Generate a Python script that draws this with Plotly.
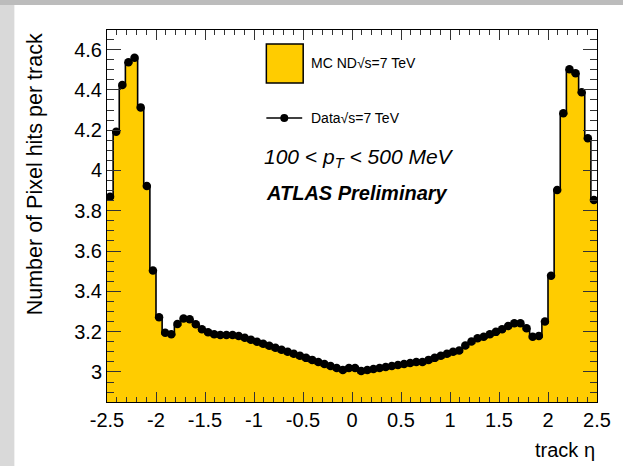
import numpy as np
import plotly.graph_objects as go

# ---- data ----
eta_lo, eta_hi, n_bins = -2.5, 2.5, 80

data_vals = [
    3.870, 4.192, 4.424, 4.537, 4.559, 4.313, 3.923, 3.503, 3.272, 3.195,
    3.187, 3.238, 3.265, 3.262, 3.237, 3.212, 3.197, 3.187, 3.184, 3.184,
    3.184, 3.179, 3.170, 3.160, 3.150, 3.140, 3.130, 3.120, 3.110, 3.100,
    3.090, 3.080, 3.070, 3.060, 3.050, 3.040, 3.030, 3.020, 3.010, 3.020,
    3.020, 3.005, 3.010, 3.015, 3.020, 3.025, 3.030, 3.035, 3.040, 3.045,
    3.050, 3.050, 3.060, 3.070, 3.080, 3.090, 3.100, 3.106, 3.131, 3.151,
    3.167, 3.175, 3.187, 3.199, 3.212, 3.228, 3.242, 3.242, 3.217, 3.175,
    3.179, 3.250, 3.478, 3.903, 4.284, 4.502, 4.482, 4.388, 4.160, 3.853,
]

mc_vals = [
    3.865, 4.190, 4.420, 4.535, 4.555, 4.310, 3.920, 3.500, 3.268, 3.190,
    3.182, 3.232, 3.258, 3.255, 3.230, 3.205, 3.190, 3.180, 3.176, 3.176,
    3.175, 3.170, 3.161, 3.151, 3.141, 3.131, 3.121, 3.111, 3.101, 3.091,
    3.081, 3.071, 3.061, 3.051, 3.041, 3.031, 3.021, 3.011, 3.002, 3.010,
    3.010, 2.997, 3.001, 3.006, 3.011, 3.016, 3.021, 3.026, 3.031, 3.036,
    3.041, 3.041, 3.051, 3.061, 3.071, 3.081, 3.091, 3.098, 3.123, 3.143,
    3.160, 3.168, 3.180, 3.192, 3.205, 3.221, 3.235, 3.235, 3.210, 3.170,
    3.174, 3.245, 3.474, 3.900, 4.280, 4.498, 4.478, 4.384, 4.156, 3.850,
]

x_tick_vals = [-2.5, -2, -1.5, -1, -0.5, 0, 0.5, 1, 1.5, 2, 2.5]
x_tick_text = ["-2.5", "-2", "-1.5", "-1", "-0.5", "0", "0.5", "1", "1.5", "2", "2.5"]
y_tick_vals = [3.0, 3.2, 3.4, 3.6, 3.8, 4.0, 4.2, 4.4, 4.6]
y_tick_text = ["3", "3.2", "3.4", "3.6", "3.8", "4", "4.2", "4.4", "4.6"]

# ---- derived ----
edges = np.linspace(eta_lo, eta_hi, n_bins + 1)
centers = 0.5 * (edges[:-1] + edges[1:])
half_w = 0.5 * (edges[1] - edges[0])

step_x = np.column_stack([edges[:-1], edges[1:]]).ravel()
step_y = np.repeat(np.array(mc_vals), 2)

FONT = "Liberation Sans, Arial, Helvetica, sans-serif"
W, H = 623, 466
L, R, T, B = 107, 24, 30, 64
pw, ph = W - L - R, H - T - B


def px(x):
    return (x - L) / pw


def py(y):
    return (H - B - y) / ph


fig = go.Figure()

fig.add_trace(go.Scatter(
    x=step_x, y=step_y, mode="lines",
    line=dict(color="black", width=1.6),
    fill="tozeroy", fillcolor="#ffcc00",
    hoverinfo="skip", showlegend=False,
))

fig.add_trace(go.Scatter(
    x=centers, y=data_vals, mode="markers",
    marker=dict(color="black", size=8.5),
    error_x=dict(type="constant", value=half_w, width=0, thickness=1.5, color="black"),
    showlegend=False,
))

tick_col = "#333333"
fig.update_xaxes(
    range=[eta_lo, eta_hi], tickmode="array", tickvals=x_tick_vals, ticktext=x_tick_text,
    ticks="inside", ticklen=10, tickwidth=1, tickcolor=tick_col,
    minor=dict(tickmode="linear", tick0=-2.5, dtick=0.1, ticks="inside", ticklen=5,
               tickwidth=1, tickcolor=tick_col),
    showline=True, linecolor="black", linewidth=1, mirror="allticks",
    showgrid=False, zeroline=False,
    tickfont=dict(family=FONT, size=20, color="black"),
)
fig.update_yaxes(
    range=[2.851, 4.697], tickmode="array", tickvals=y_tick_vals, ticktext=y_tick_text,
    ticks="inside", ticklen=14, tickwidth=1, tickcolor=tick_col,
    minor=dict(tickmode="linear", tick0=3.0, dtick=0.05, ticks="inside", ticklen=7,
               tickwidth=1, tickcolor=tick_col),
    showline=True, linecolor="black", linewidth=1, mirror="allticks",
    showgrid=False, zeroline=False,
    tickfont=dict(family=FONT, size=20, color="black"),
)

shapes = [
    # white canvas with grey frame around
    dict(type="rect", xref="paper", yref="paper", x0=px(0) - 0.05, x1=px(W) + 0.05,
         y0=py(H) - 0.05, y1=py(0) + 0.05, fillcolor="#d9d9d9", line_width=0, layer="below"),
    dict(type="rect", xref="paper", yref="paper", x0=px(0) - 0.05, x1=px(W) + 0.05,
         y0=py(5), y1=py(0) + 0.05, fillcolor="#bcbcbc", line_width=0, layer="below"),
    dict(type="rect", xref="paper", yref="paper", x0=px(14), x1=px(W) + 0.05,
         y0=py(H) - 0.05, y1=py(5), fillcolor="white", line_width=0, layer="below"),
    # legend box for MC
    dict(type="rect", xref="paper", yref="paper", x0=px(267), x1=px(304),
         y0=py(83), y1=py(44), fillcolor="#ffcc00", line=dict(color="black", width=1.5),
         layer="above"),
    # legend line for data
    dict(type="line", xref="paper", yref="paper", x0=px(267), x1=px(303),
         y0=py(118), y1=py(118), line=dict(color="black", width=1.5), layer="above"),
    dict(type="circle", xref="paper", yref="paper", x0=px(281), x1=px(289),
         y0=py(122), y1=py(114), fillcolor="black", line=dict(color="black", width=0),
         layer="above"),
]

annotations = [
    dict(text="MC ND√s=7 TeV", x=px(310), y=py(63), xref="paper", yref="paper",
         xanchor="left", yanchor="middle", showarrow=False,
         font=dict(family=FONT, size=14, color="black")),
    dict(text="Data√s=7 TeV", x=px(310), y=py(118), xref="paper", yref="paper",
         xanchor="left", yanchor="middle", showarrow=False,
         font=dict(family=FONT, size=14, color="black")),
    dict(text="100 < p<sub>T</sub> < 500 MeV", x=px(360), y=py(158), xref="paper", yref="paper",
         xanchor="center", yanchor="middle", showarrow=False,
         font=dict(family=FONT, size=21, color="black", style="italic")),
    dict(text="ATLAS Preliminary", x=px(358), y=py(193), xref="paper", yref="paper",
         xanchor="center", yanchor="middle", showarrow=False,
         font=dict(family=FONT, size=20, color="black", style="italic", weight="bold")),
    dict(text="Number of Pixel hits per track", x=px(35), y=py(31), xref="paper", yref="paper",
         xanchor="center", yanchor="top", textangle=-90, showarrow=False,
         font=dict(family=FONT, size=21.5, color="black")),
    dict(text="track η", x=px(599), y=py(450), xref="paper", yref="paper",
         xanchor="right", yanchor="middle", showarrow=False,
         font=dict(family=FONT, size=20, color="black")),
]

fig.update_layout(
    width=W, height=H,
    margin=dict(l=L, r=R, t=T, b=B),
    paper_bgcolor="#d9d9d9", plot_bgcolor="white",
    shapes=shapes, annotations=annotations,
    showlegend=False,
)

fig.write_html("out.html")
